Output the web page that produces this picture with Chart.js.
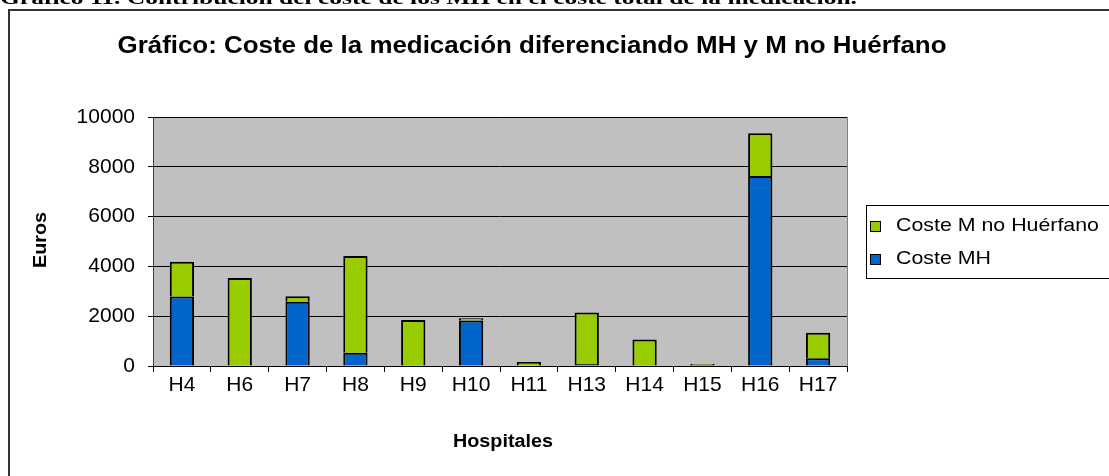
<!DOCTYPE html>
<html>
<head>
<meta charset="utf-8">
<script src="https://cdn.jsdelivr.net/npm/chart.js@4"></script>
<style>
  body { margin: 0; background: #fff; }
  canvas { display: block; }
</style>
</head>
<body>
<canvas id="grafico" width="1109" height="476"></canvas>
<script>
const hospitales = ["H4", "H6", "H7", "H8", "H9", "H10", "H11", "H13", "H14", "H15", "H16", "H17"];
const costeMH = [2790, 0, 2580, 530, 0, 1830, 0, 80, 0, 40, 7630, 310];
const costeNoHuerfano = [1400, 3530, 220, 3890, 1850, 85, 160, 2070, 1060, 40, 1720, 1030];
const ticksY = [0, 2000, 4000, 6000, 8000, 10000];

const titulo = "Gráfico: Coste de la medicación diferenciando MH y M no Huérfano";
const leyenda = "Gráfico 11. Contribución del coste de los MH en el coste total de la medicación.";

// texto estirado a lo ancho para ajustarse a un ancho dado
function textoAncho(ctx, txt, x, y, ancho) {
  const sx = ancho / ctx.measureText(txt).width;
  ctx.save();
  ctx.translate(x, y);
  ctx.scale(sx, 1);
  ctx.fillText(txt, 0, 0);
  ctx.restore();
  return sx;
}

const decorado = {
  id: "decorado",
  beforeDraw(chart) {
    const { ctx, chartArea: a } = chart;
    ctx.save();
    ctx.fillStyle = "#fff";
    ctx.fillRect(0, 0, chart.width, chart.height);
    ctx.fillStyle = "#c0c0c0";
    ctx.fillRect(a.left, a.top, a.right - a.left, a.bottom - a.top);
    ctx.restore();
  },
  afterDraw(chart) {
    const { ctx, chartArea: a } = chart;
    ctx.save();
    ctx.strokeStyle = "#808080";
    ctx.lineWidth = 1;
    ctx.beginPath();
    ctx.moveTo(a.right + 0.5, a.top);
    ctx.lineTo(a.right + 0.5, a.bottom);
    ctx.stroke();

    // marco exterior
    ctx.strokeStyle = "#333";
    ctx.lineWidth = 2;
    ctx.beginPath();
    ctx.moveTo(9, chart.height);
    ctx.lineTo(9, 10);
    ctx.lineTo(chart.width, 10);
    ctx.stroke();

    ctx.fillStyle = "#000";
    ctx.font = "bold 19px 'Liberation Serif'";
    ctx.textAlign = "left";
    ctx.textBaseline = "alphabetic";
    textoAncho(ctx, leyenda, 0, 4, 857);

    ctx.textAlign = "center";
    ctx.textBaseline = "middle";
    ctx.font = "bold 23px 'Liberation Sans', Arial";
    textoAncho(ctx, titulo, 532, 47, 829);

    ctx.font = "bold 18px 'Liberation Sans', Arial";
    textoAncho(ctx, "Hospitales", 503, 442, 100);
    ctx.translate(41, 240);
    ctx.rotate(-Math.PI / 2);
    textoAncho(ctx, "Euros", 0, 0, 56);
    ctx.restore();

    // leyenda
    ctx.save();
    ctx.strokeStyle = "#000";
    ctx.lineWidth = 1;
    ctx.fillStyle = "#fff";
    ctx.fillRect(866.5, 205.5, 260, 73);
    ctx.strokeRect(866.5, 205.5, 260, 73);
    const items = [chart.data.datasets[1], chart.data.datasets[0]];
    ctx.font = "19px 'Liberation Sans', Arial";
    ctx.textAlign = "left";
    ctx.textBaseline = "middle";
    const sx = 203 / ctx.measureText(items[0].label).width;
    items.forEach((ds, i) => {
      const y = 226 + i * 33;
      ctx.fillStyle = ds.backgroundColor;
      ctx.fillRect(870.5, y - 4.5, 10, 10);
      ctx.strokeRect(870.5, y - 4.5, 10, 10);
      ctx.fillStyle = "#000";
      ctx.save();
      ctx.translate(896, y);
      ctx.scale(sx, 1);
      ctx.fillText(ds.label, 0, 0);
      ctx.restore();
    });
    ctx.restore();
  }
};

new Chart(document.getElementById("grafico"), {
  type: "bar",
  data: {
    labels: hospitales,
    datasets: [
      {
        label: "Coste MH",
        data: costeMH,
        backgroundColor: "#0066cc",
        borderColor: "#000",
        borderWidth: 2,
        barPercentage: 0.42,
        categoryPercentage: 1
      },
      {
        label: "Coste M no Huérfano",
        data: costeNoHuerfano,
        backgroundColor: "#99cc00",
        borderColor: "#000",
        borderWidth: 2,
        barPercentage: 0.42,
        categoryPercentage: 1
      }
    ]
  },
  options: {
    responsive: false,
    animation: false,
    layout: { padding: { left: 0, top: 117, right: 262, bottom: 0 } },
    plugins: {
      legend: { display: false },
      tooltip: { enabled: false }
    },
    scales: {
      x: {
        stacked: true,
        offset: true,
        afterFit(scale) { scale.height = 110; },
        grid: {
          offset: true,
          drawOnChartArea: false,
          color: "#000",
          tickLength: 6
        },
        border: { color: "#000" },
        ticks: {
          color: "#000",
          padding: 1,
          font: { family: "'Liberation Sans', Arial", size: 21 }
        }
      },
      y: {
        stacked: true,
        min: 0,
        max: 10000,
        afterFit(scale) { scale.width = 153; },
        afterBuildTicks(scale) { scale.ticks = ticksY.map(v => ({ value: v })); },
        grid: { color: "#000", tickLength: 5 },
        border: { color: "#404040" },
        ticks: {
          color: "#000",
          padding: 13,
          callback: v => String(v),
          font: { family: "'Liberation Sans', Arial", size: 21 }
        }
      }
    }
  },
  plugins: [decorado]
});
</script>
</body>
</html>
